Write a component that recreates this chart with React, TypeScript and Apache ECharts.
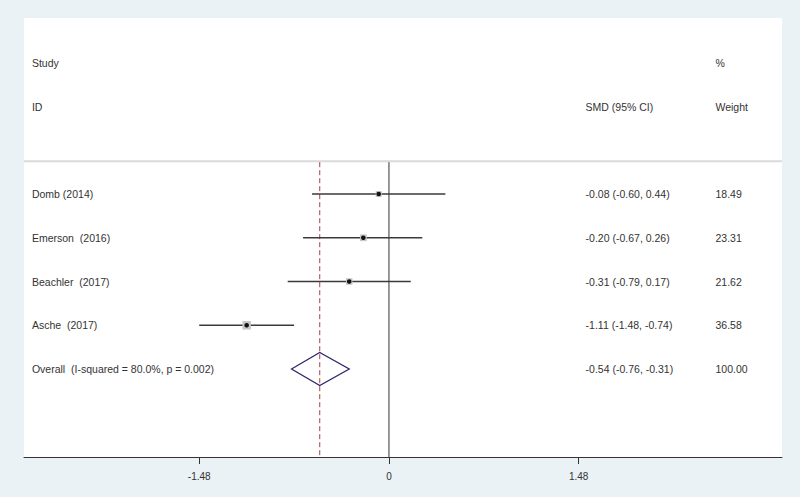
import React, { useEffect, useRef } from "react";
import * as echarts from "echarts";

// ---- data ----
const studies = ["Domb (2014)", "Emerson  (2016)", "Beachler  (2017)", "Asche  (2017)"];
const smd = [-0.08, -0.2, -0.31, -1.11];
const lower = [-0.6, -0.67, -0.79, -1.48];
const upper = [0.44, 0.26, 0.17, -0.74];
const weights = [18.49, 23.31, 21.62, 36.58];
const ciTexts = ["-0.08 (-0.60, 0.44)", "-0.20 (-0.67, 0.26)", "-0.31 (-0.79, 0.17)", "-1.11 (-1.48, -0.74)"];
const weightTexts = ["18.49", "23.31", "21.62", "36.58"];

const overallLabel = "Overall  (I-squared = 80.0%, p = 0.002)";
const overallSmd = -0.54;
const overallLower = -0.76;
const overallUpper = -0.31;
const overallCiText = "-0.54 (-0.76, -0.31)";
const overallWeightText = "100.00";

const headerRow1 = ["Study", "", "%"];
const headerRow2 = ["ID", "SMD (95% CI)", "Weight"];
const tickValues = [-1.48, 0, 1.48];

// ---- layout constants ----
const X_MIN = -2.847;
const X_MAX = 3.066;
const Y_MIN = -4.023;
const Y_MAX = 6.011;
const SEP_ROW = -0.75;
const COLS = [-2.785, 1.534, 2.547];
const FONT = "'Liberation Sans', Arial, Helvetica, sans-serif";
const TEXT_COLOR = "#333333";

function txt(x: number, y: number, s: string) {
  return {
    type: "text",
    x,
    y,
    style: {
      text: s,
      fill: TEXT_COLOR,
      fontSize: 10.5,
      fontFamily: FONT,
      align: "left",
      verticalAlign: "middle",
    },
  };
}

export default function App() {
  const ref = useRef<HTMLDivElement>(null);
  useEffect(() => {
    if (!ref.current) return;
    const chart = echarts.init(ref.current, undefined, { renderer: "svg" });
    const option: any = {
      animation: false,
      backgroundColor: "#eaf2f6",
      grid: {
        left: 24,
        right: 18,
        top: 18,
        bottom: 40,
        show: true,
        backgroundColor: "#ffffff",
        borderWidth: 0,
      },
      xAxis: {
        type: "value",
        min: X_MIN,
        max: X_MAX,
        splitLine: { show: false },
        axisLine: { show: true, onZero: false, lineStyle: { color: "#333", width: 1 } },
        axisTick: {
          show: true,
          customValues: tickValues,
          length: 7,
          lineStyle: { color: "#333", width: 1 },
        },
        axisLabel: {
          show: true,
          customValues: tickValues,
          margin: 14,
          fontSize: 10,
          color: TEXT_COLOR,
          fontFamily: FONT,
          formatter: (v: number) => (Math.abs(v) < 1e-9 ? "0" : v.toFixed(2)),
        },
      },
      yAxis: {
        type: "value",
        min: Y_MIN,
        max: Y_MAX,
        inverse: true,
        show: false,
      },
      series: [
        {
          type: "custom",
          name: "header",
          data: [[0, SEP_ROW]],
          renderItem: (params: any, api: any) => {
            const [xa, ys] = api.coord([X_MIN, SEP_ROW]);
            const [xb] = api.coord([X_MAX, SEP_ROW]);
            const children: any[] = [
              {
                type: "line",
                shape: { x1: xa, y1: ys, x2: xb, y2: ys },
                style: { stroke: "#dadada", lineWidth: 2 },
              },
            ];
            headerRow1.forEach((s, c) => {
              if (!s) return;
              const [x, y] = api.coord([COLS[c], -3]);
              children.push(txt(x, y, s));
            });
            headerRow2.forEach((s, c) => {
              if (!s) return;
              const [x, y] = api.coord([COLS[c], -2]);
              children.push(txt(x, y, s));
            });
            return { type: "group", children };
          },
        },
        {
          type: "custom",
          name: "reflines",
          data: [
            [0, SEP_ROW],
            [overallSmd, SEP_ROW],
          ],
          renderItem: (params: any, api: any) => {
            const xv = api.value(0);
            const [x, y0] = api.coord([xv, SEP_ROW]);
            const [, y1] = api.coord([xv, Y_MAX]);
            const dashed = params.dataIndex === 1;
            return {
              type: "line",
              shape: { x1: x, y1: y0 + 1, x2: x, y2: y1 },
              style: dashed
                ? { stroke: "#a8424e", lineWidth: 1, lineDash: [5, 3] }
                : { stroke: "#333333", lineWidth: 1 },
            };
          },
        },
        {
          type: "custom",
          name: "studies",
          data: studies.map((_, i) => [smd[i], i]),
          renderItem: (params: any, api: any) => {
            const i = params.dataIndex;
            const [xl, y] = api.coord([lower[i], i]);
            const [xr] = api.coord([upper[i], i]);
            const [xc] = api.coord([smd[i], i]);
            const side = 1.4 * Math.sqrt(weights[i]);
            const [t0] = api.coord([COLS[0], i]);
            const [t1] = api.coord([COLS[1], i]);
            const [t2] = api.coord([COLS[2], i]);
            return {
              type: "group",
              children: [
                {
                  type: "line",
                  shape: { x1: xl, y1: y, x2: xr, y2: y },
                  style: { stroke: "#3a3a3a", lineWidth: 1.3 },
                },
                {
                  type: "rect",
                  shape: { x: xc - side / 2, y: y - side / 2, width: side, height: side },
                  style: { fill: "#c6c6c6" },
                },
                {
                  type: "circle",
                  shape: { cx: xc, cy: y, r: 2.3 },
                  style: { fill: "#111111" },
                },
                txt(t0, y, studies[i]),
                txt(t1, y, ciTexts[i]),
                txt(t2, y, weightTexts[i]),
              ],
            };
          },
        },
        {
          type: "custom",
          name: "overall",
          data: [[overallSmd, studies.length]],
          renderItem: (params: any, api: any) => {
            const row = studies.length;
            const [xl, y] = api.coord([overallLower, row]);
            const [xr] = api.coord([overallUpper, row]);
            const [xc] = api.coord([overallSmd, row]);
            const h = 16.5;
            const [t0] = api.coord([COLS[0], row]);
            const [t1] = api.coord([COLS[1], row]);
            const [t2] = api.coord([COLS[2], row]);
            return {
              type: "group",
              children: [
                {
                  type: "polygon",
                  shape: {
                    points: [
                      [xl, y],
                      [xc, y - h],
                      [xr, y],
                      [xc, y + h],
                    ],
                  },
                  style: { fill: "none", stroke: "#2d2a6b", lineWidth: 1.3 },
                },
                txt(t0, y, overallLabel),
                txt(t1, y, overallCiText),
                txt(t2, y, overallWeightText),
              ],
            };
          },
        },
      ],
    };
    chart.setOption(option);
    return () => chart.dispose();
  }, []);
  return (
    <div
      ref={ref}
      style={{ position: "absolute", left: 0, top: 0, width: 800, height: 497 }}
    />
  );
}
